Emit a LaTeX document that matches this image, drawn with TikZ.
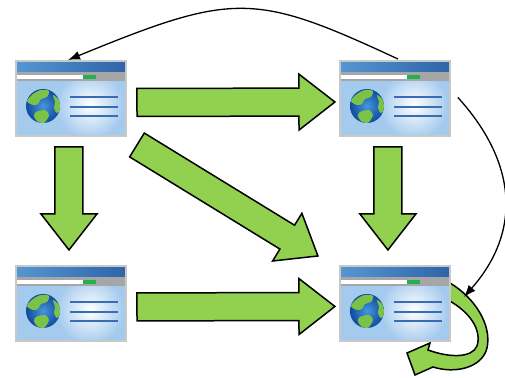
\documentclass[tikz,border=0pt]{standalone}
\usepackage{tikz}
\usetikzlibrary{arrows.meta,positioning,calc}
\definecolor{leaf}{RGB}{146,208,80}
\definecolor{frame}{RGB}{200,200,200}
\definecolor{titleL}{RGB}{86,150,210}
\definecolor{titleR}{RGB}{46,100,168}
\definecolor{bar}{RGB}{166,166,166}
\definecolor{status}{RGB}{34,177,76}
\definecolor{pane}{RGB}{164,202,238}
\definecolor{rule}{RGB}{58,108,180}
\definecolor{seaIn}{RGB}{70,150,222}
\definecolor{seaOut}{RGB}{16,74,156}
\definecolor{land}{RGB}{122,194,72}

% half widths and head length of the fat arrows
\def\shafthalf{0.28cm}
\def\headhalf{0.56cm}
\def\headlen{0.72cm}

\tikzset{
  browser/.style={inner sep=0pt,outer sep=0pt,minimum width=2.2cm,minimum height=1.5cm},
  % window icon, drawn from its top left corner
  screen/.pic={
    \begin{scope}
      \clip (0,20) rectangle (110,75);
      \fill[pane] (0,20) rectangle (110,75);
      \shade[inner color=white,outer color=pane] (74,44) circle (34);
    \end{scope}
    \shade[left color=titleL,right color=titleR] (0,0) rectangle (110,11);
    \fill[bar] (0,11) rectangle (110,20);
    \fill[white] (0,14) rectangle (67,18);
    \fill[status] (67,14) rectangle (80,18);
    \foreach \y in {36,46,55}
      \draw[rule,line width=0.03cm] (54,\y) -- (102,\y);
    \begin{scope}[shift={(27,45)}]
      \shade[inner color=seaIn,outer color=seaOut] (0,0) circle (17);
      \begin{scope}
        \clip (0,0) circle (17);
        \fill[land] plot[smooth cycle] coordinates
          {(-16,-5) (-10,-12) (-2,-16) (6,-15) (4,-9) (-2,-7) (-5,-2) (-10,-1)};
        \fill[land] plot[smooth cycle] coordinates
          {(10,-11) (16,-6) (18,2) (14,7) (11,2) (12,-4)};
        \fill[land] plot[smooth cycle] coordinates
          {(-7,6) (2,4) (6,9) (1,17) (-6,15) (-9,10)};
      \end{scope}
    \end{scope}
    \draw[frame,line width=0.03cm] (0,0) rectangle (110,75);
  },
  fat/.style={draw=black,line width=0.03cm,fill=leaf,line join=miter,
    to path={
      ($(\tikztostart)!\shafthalf!90:(\tikztotarget)$)
      -- ($($(\tikztotarget)!\headlen!(\tikztostart)$)!\shafthalf!90:(\tikztotarget)$)
      -- ($($(\tikztotarget)!\headlen!(\tikztostart)$)!\headhalf!90:(\tikztotarget)$)
      -- (\tikztotarget)
      -- ($($(\tikztotarget)!\headlen!(\tikztostart)$)!\headhalf!-90:(\tikztotarget)$)
      -- ($($(\tikztotarget)!\headlen!(\tikztostart)$)!\shafthalf!-90:(\tikztotarget)$)
      -- ($(\tikztostart)!\shafthalf!-90:(\tikztotarget)$)
      -- cycle}},
  link/.style={-{Latex[length=2.4mm,width=1.8mm]},line width=0.026cm}
}

\begin{document}
\begin{tikzpicture}[x=0.02cm,y=-0.02cm,node distance=26mm and 42.8mm]
\useasboundingbox (0,0) rectangle (505,378);
% the loop back onto the last page, drawn first so the window covers its tail
\draw[fill=leaf,line width=0.03cm,line join=miter]
  (450,283) .. controls (475,298) and (492,325) .. (487,348)
  .. controls (482,368) and (455,374) .. (433,367)
  -- (415,375) -- (407,353) -- (430,343) -- (428,350)
  .. controls (450,358) and (472,358) .. (477,346)
  .. controls (482,330) and (470,312) .. (448,300) -- cycle;
\coordinate (loop) at (464,297);

\node[browser,anchor=north west] (upleft) at (16,61) {};
\node[browser,right=of upleft] (upright) {};
\node[browser,below=of upleft] (lowleft) {};
\node[browser,below=of upright] (lowright) {};
\foreach \p in {upleft,upright,lowleft,lowright}
  \pic at (\p.north west) {screen};

\draw[fat] ($(upleft.east)+(11,4)$) to ($(upright.west)+(-5,3.5)$);
\draw[fat] ($(upleft.south)+(-2,11)$) to ($(lowleft.north)+(-2,-16)$);
\draw[fat] ($(upleft.south east)+(11,9)$) to ($(lowright.north west)+(-22,-10)$);
\draw[fat] ($(upright.south)+(-7,11)$) to ($(lowright.north)+(-7,-16)$);
\draw[fat] ($(lowleft.east)+(11,3.5)$) to ($(lowright.west)+(-5,3)$);

\draw[link] ($(upright.north)+(3,-2)$) .. controls +(-144,-67) and +(166,-68) .. ($(upleft.north)+(-3,-1)$);
\draw[link] ($(upright.east)+(8,-1)$) .. controls +(59,65) and +(58,-66) .. (loop);
\end{tikzpicture}
\end{document}
